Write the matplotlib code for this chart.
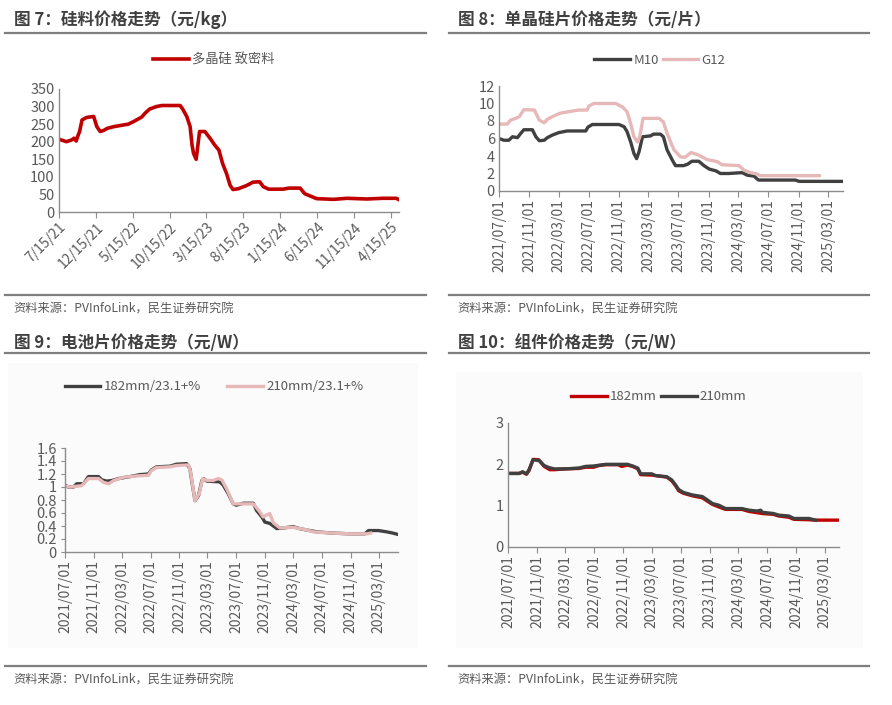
import pandas as pd
import matplotlib
matplotlib.use("Agg")
import matplotlib.pyplot as plt
from matplotlib.lines import Line2D
from matplotlib.patches import Rectangle

plt.rcParams['font.family'] = ['Noto Sans CJK SC', 'DejaVu Sans']

# ---- 图7 硅料 ----
poly_dates = ["2021-07-15", "2021-08-02", "2021-08-15", "2021-09-05", "2021-09-15", "2021-09-24",
              "2021-09-30", "2021-10-08", "2021-10-18", "2021-11-06", "2021-12-05", "2021-12-18",
              "2022-01-01", "2022-01-15", "2022-01-30", "2022-02-27", "2022-03-24", "2022-04-27",
              "2022-05-18", "2022-06-21", "2022-07-05", "2022-07-24", "2022-08-21", "2022-09-12",
              "2022-11-27", "2022-12-09", "2022-12-24", "2023-01-07", "2023-01-15", "2023-01-21",
              "2023-02-01", "2023-02-15", "2023-03-09", "2023-03-30", "2023-04-18", "2023-05-06",
              "2023-05-21", "2023-06-06", "2023-06-21", "2023-07-03", "2023-07-24", "2023-08-27",
              "2023-09-24", "2023-10-21", "2023-11-05", "2023-11-27", "2024-01-27", "2024-02-18",
              "2024-04-05", "2024-04-24", "2024-05-15", "2024-06-12", "2024-08-21", "2024-10-15",
              "2025-01-06", "2025-03-12", "2025-05-07", "2025-05-18"]
poly_vals = [207, 203, 200, 205, 210, 202, 215, 229, 262, 269, 272, 243,
             229, 232, 238, 243, 246, 250, 257, 270, 281, 293, 300, 303,
             303, 291, 272, 243, 191, 167, 150, 229, 229, 210, 191, 176,
             138, 110, 76, 64, 66, 75, 85, 86, 72, 65, 65, 68,
             68, 52, 46, 38, 36, 39, 37, 39, 39, 35]
poly_ticks = ["2021-07-15", "2021-12-15", "2022-05-15", "2022-10-15", "2023-03-15",
              "2023-08-15", "2024-01-15", "2024-06-15", "2024-11-15", "2025-04-15"]
poly_ticklabels = ["7/15/21", "12/15/21", "5/15/22", "10/15/22", "3/15/23",
                   "8/15/23", "1/15/24", "6/15/24", "11/15/24", "4/15/25"]

# ---- 图8 单晶硅片 ----
m10_dates = ["2021-07-01", "2021-07-21", "2021-08-10", "2021-08-25", "2021-09-14", "2021-09-28",
             "2021-10-10", "2021-11-14", "2021-11-28", "2021-12-12", "2022-01-01", "2022-01-14",
             "2022-02-04", "2022-03-01", "2022-04-04", "2022-06-19", "2022-06-28", "2022-07-16",
             "2022-11-01", "2022-11-22", "2022-12-04", "2022-12-19", "2023-01-01", "2023-01-12",
             "2023-01-22", "2023-02-05", "2023-03-10", "2023-03-22", "2023-04-19", "2023-05-01",
             "2023-05-16", "2023-06-07", "2023-06-19", "2023-07-22", "2023-08-07", "2023-08-25",
             "2023-09-22", "2023-10-13", "2023-11-04", "2023-12-01", "2023-12-19", "2024-01-22",
             "2024-03-16", "2024-04-07", "2024-05-04", "2024-05-22", "2024-10-19", "2024-11-04",
             "2025-05-01"]
m10_vals = [6.0, 5.8, 5.8, 6.2, 6.1, 6.6, 7.0, 7.0, 6.2, 5.75, 5.8, 6.1,
            6.4, 6.67, 6.86, 6.86, 7.3, 7.6, 7.6, 7.35, 6.8, 5.6, 4.3, 3.7,
            4.5, 6.2, 6.3, 6.5, 6.5, 6.2, 4.7, 3.5, 2.9, 2.9, 3.05, 3.4,
            3.4, 2.9, 2.5, 2.3, 2.0, 2.0, 2.1, 1.8, 1.7, 1.25, 1.25, 1.1, 1.1]
g12_dates = ["2021-07-01", "2021-08-04", "2021-08-17", "2021-09-07", "2021-09-22", "2021-10-10",
             "2021-11-22", "2021-12-12", "2022-01-01", "2022-01-14", "2022-02-11", "2022-03-08",
             "2022-04-11", "2022-05-22", "2022-06-25", "2022-07-01", "2022-07-22", "2022-10-19",
             "2022-11-16", "2022-12-04", "2022-12-19", "2023-01-01", "2023-01-16", "2023-01-25",
             "2023-02-07", "2023-04-13", "2023-05-01", "2023-05-16", "2023-06-13", "2023-07-10",
             "2023-07-28", "2023-08-22", "2023-09-22", "2023-10-25", "2023-12-07", "2023-12-25",
             "2024-03-04", "2024-03-23", "2024-04-19", "2024-05-16", "2024-05-29", "2025-01-25"]
g12_vals = [7.65, 7.65, 8.1, 8.3, 8.5, 9.3, 9.25, 8.1, 7.8, 8.2, 8.6, 8.9,
            9.07, 9.25, 9.25, 9.7, 10.0, 10.0, 9.6, 9.07, 7.7, 6.2, 5.6, 6.2,
            8.3, 8.3, 7.9, 6.6, 4.7, 3.9, 3.85, 4.4, 4.1, 3.6, 3.35, 3.0,
            2.9, 2.4, 2.1, 1.95, 1.75, 1.75]

# ---- 图9 电池片 ----
c182_dates = ["2021-07-01", "2021-07-15", "2021-08-06", "2021-08-20", "2021-09-18", "2021-10-09",
              "2021-11-21", "2021-12-05", "2021-12-26", "2022-01-17", "2022-02-15", "2022-04-04",
              "2022-05-16", "2022-06-22", "2022-07-04", "2022-07-26", "2022-09-22", "2022-10-19",
              "2022-12-02", "2022-12-16", "2022-12-28", "2023-01-07", "2023-01-22", "2023-02-05",
              "2023-02-12", "2023-02-26", "2023-04-22", "2023-05-07", "2023-05-28", "2023-06-19",
              "2023-07-02", "2023-08-01", "2023-09-13", "2023-09-26", "2023-10-19", "2023-11-01",
              "2023-11-22", "2023-12-22", "2024-01-19", "2024-03-01", "2024-03-28", "2024-05-10",
              "2024-06-10", "2024-08-19", "2024-10-28", "2025-01-01", "2025-01-16", "2025-02-28",
              "2025-04-04", "2025-05-01", "2025-05-22"]
c182_vals = [1.03, 1.0, 1.0, 1.05, 1.05, 1.16, 1.16, 1.11, 1.09, 1.10, 1.13, 1.16,
             1.19, 1.2, 1.26, 1.31, 1.32, 1.35, 1.36, 1.28, 1.0, 0.79, 0.87, 1.10,
             1.13, 1.09, 1.08, 1.03, 0.90, 0.74, 0.72, 0.75, 0.75, 0.64, 0.54, 0.46,
             0.44, 0.36, 0.37, 0.39, 0.36, 0.33, 0.31, 0.29, 0.28, 0.28, 0.33, 0.33,
             0.31, 0.29, 0.27]
c210_dates = ["2021-07-01", "2021-07-22", "2021-09-10", "2021-09-18", "2021-10-09", "2021-11-21",
              "2021-12-13", "2022-01-04", "2022-01-25", "2022-03-07", "2022-05-01", "2022-06-22",
              "2022-07-04", "2022-07-26", "2022-09-22", "2022-10-19", "2022-12-10", "2022-12-19",
              "2023-01-01", "2023-01-07", "2023-01-25", "2023-02-08", "2023-02-26", "2023-03-25",
              "2023-04-16", "2023-05-01", "2023-05-22", "2023-06-19", "2023-09-13", "2023-10-10",
              "2023-10-25", "2023-11-08", "2023-11-22", "2023-12-07", "2024-01-04", "2024-03-01",
              "2024-04-28", "2024-05-25", "2024-08-19", "2024-10-28", "2025-01-10", "2025-01-25"]
c210_vals = [1.02, 1.0, 1.02, 1.05, 1.13, 1.13, 1.07, 1.05, 1.10, 1.15, 1.17, 1.18,
             1.25, 1.30, 1.31, 1.33, 1.34, 1.23, 0.92, 0.79, 0.90, 1.13, 1.10, 1.10,
             1.13, 1.11, 0.97, 0.74, 0.74, 0.62, 0.54, 0.57, 0.59, 0.45, 0.37, 0.38,
             0.34, 0.31, 0.29, 0.28, 0.28, 0.29]

# ---- 图10 组件 ----
m182_dates = ["2021-07-01", "2021-08-17", "2021-09-01", "2021-09-17", "2021-09-28", "2021-10-15",
              "2021-11-08", "2021-12-01", "2021-12-25", "2022-01-13", "2022-03-01", "2022-04-27",
              "2022-05-25", "2022-06-28", "2022-07-20", "2022-08-19", "2022-10-10", "2022-10-25",
              "2022-11-19", "2022-12-10", "2023-01-01", "2023-01-13", "2023-03-01", "2023-05-04",
              "2023-05-25", "2023-06-10", "2023-06-23", "2023-07-13", "2023-08-19", "2023-10-01",
              "2023-10-22", "2023-11-13", "2023-12-10", "2024-01-07", "2024-03-16", "2024-04-16",
              "2024-06-10", "2024-07-28", "2024-08-19", "2024-10-01", "2024-10-22", "2024-12-25",
              "2025-01-15", "2025-05-01"]
m182_vals = [1.78, 1.78, 1.81, 1.76, 1.85, 2.12, 2.11, 1.95, 1.87, 1.87, 1.89, 1.90,
             1.93, 1.93, 1.97, 1.99, 1.99, 1.95, 1.98, 1.95, 1.89, 1.75, 1.74, 1.69,
             1.60, 1.48, 1.36, 1.30, 1.24, 1.19, 1.11, 1.03, 0.97, 0.91, 0.91, 0.86,
             0.81, 0.79, 0.75, 0.72, 0.67, 0.66, 0.65, 0.65]
m210_dates = ["2021-07-01", "2021-08-17", "2021-09-01", "2021-09-17", "2021-09-28", "2021-10-15",
              "2021-11-10", "2021-12-01", "2021-12-22", "2022-01-13", "2022-03-01", "2022-04-27",
              "2022-05-25", "2022-06-28", "2022-08-19", "2022-11-19", "2022-12-10", "2023-01-01",
              "2023-01-13", "2023-03-01", "2023-03-16", "2023-05-04", "2023-05-25", "2023-06-10",
              "2023-06-23", "2023-07-13", "2023-08-19", "2023-10-01", "2023-10-22", "2023-11-13",
              "2023-12-10", "2024-01-07", "2024-03-16", "2024-04-16", "2024-05-19", "2024-06-04",
              "2024-06-10", "2024-07-28", "2024-08-19", "2024-10-01", "2024-10-22", "2024-12-25",
              "2025-01-22"]
m210_vals = [1.78, 1.78, 1.82, 1.77, 1.87, 2.11, 2.09, 1.97, 1.92, 1.89, 1.89, 1.91,
             1.95, 1.96, 2.0, 2.0, 1.96, 1.91, 1.77, 1.77, 1.73, 1.70, 1.62, 1.50,
             1.39, 1.32, 1.26, 1.22, 1.14, 1.05, 1.01, 0.93, 0.93, 0.89, 0.87, 0.89,
             0.84, 0.81, 0.77, 0.75, 0.69, 0.69, 0.65]

ymd_ticks = pd.date_range("2021-07-01", "2025-03-01", freq="4MS")
ymd_ticklabels = [d.strftime("%Y/%m/%d") for d in ymd_ticks]

RED = "#C00000"
DARK = "#404040"
PINK = "#E6B9B8"
TXT = "#595959"
W, H = 892, 705


def fx(px):
    return px / W


def fy(py):
    return 1 - py / H


fig = plt.figure(figsize=(8.92, 7.05), dpi=100)

# faint chart-area backgrounds of the lower two panels
for bx0, bx1, btop in ((8, 418, 363), (456, 863, 372)):
    fig.add_artist(Rectangle((fx(bx0), fy(648)), fx(bx1 - bx0), (648 - btop) / H,
                             fc="#fbfbfb", ec="none", transform=fig.transFigure, zorder=0))


def frame(x0, x1, ytop, ybot, title, tx, ty, sy):
    fig.text(fx(tx), fy(ty), title, fontsize=12, fontweight="bold", color="#404040", va="center")
    for yy in (ytop, ybot):
        fig.add_artist(Line2D([fx(x0), fx(x1)], [fy(yy), fy(yy)], color="#7f7f7f", lw=1.6,
                              transform=fig.transFigure))
    fig.text(fx(tx - 1), fy(sy), "资料来源：PVInfoLink，民生证券研究院", fontsize=8.8,
             color=TXT, va="center")


def style(ax, ytick_len=0):
    ax.patch.set_alpha(0)
    for s in ("top", "right"):
        ax.spines[s].set_visible(False)
    for s in ("left", "bottom"):
        ax.spines[s].set_color("#8c8c8c")
        ax.spines[s].set_linewidth(1.0)
    ax.tick_params(axis="x", length=4, color="#8c8c8c", labelsize=10, labelcolor=TXT, pad=2)
    ax.tick_params(axis="y", length=ytick_len, color="#8c8c8c", labelsize=10.5, labelcolor=TXT, pad=3)


def legend(ax, cx, cy, spacing):
    ax.legend(loc="center", bbox_to_anchor=(fx(cx), fy(cy)), bbox_transform=fig.transFigure,
              ncol=2, frameon=False, fontsize=9.5, handlelength=2.7, handletextpad=0.25,
              columnspacing=spacing, labelcolor=TXT)


# frames
frame(5, 426, 33, 295, "图 7：硅料价格走势（元/kg）", 14, 20, 309)
frame(449, 869, 33, 295, "图 8：单晶硅片价格走势（元/片）", 458, 20, 309)
frame(5, 426, 353, 666, "图 9：电池片价格走势（元/W）", 14, 343, 680)
frame(449, 869, 353, 666, "图 10：组件价格走势（元/W）", 458, 343, 680)

# 图7
ax1 = fig.add_axes([fx(59), fy(212), fx(399 - 59), (212 - 89) / H])
ax1.plot(pd.to_datetime(poly_dates), poly_vals, color=RED, lw=2.6, label="多晶硅 致密料")
ax1.set_xlim(pd.Timestamp("2021-07-15"), pd.Timestamp("2025-05-18"))
ax1.set_ylim(0, 350)
ax1.set_yticks(range(0, 351, 50))
ax1.set_xticks(pd.to_datetime(poly_ticks))
ax1.set_xticklabels(poly_ticklabels, rotation=45, ha="right", rotation_mode="anchor")
style(ax1)
legend(ax1, 214, 60, 1.0)

# 图8
ax2 = fig.add_axes([fx(499), fy(191), fx(843 - 499), (191 - 86) / H])
ax2.plot(pd.to_datetime(m10_dates), m10_vals, color=DARK, lw=2.4, label="M10")
ax2.plot(pd.to_datetime(g12_dates), g12_vals, color=PINK, lw=2.4, label="G12")
ax2.set_xlim(pd.Timestamp("2021-07-01"), pd.Timestamp("2025-05-01"))
ax2.set_ylim(0, 12)
ax2.set_yticks(range(0, 13, 2))
ax2.set_xticks(ymd_ticks)
ax2.set_xticklabels(ymd_ticklabels, rotation=90)
style(ax2)
legend(ax2, 660, 60, 0.3)

# 图9
ax3 = fig.add_axes([fx(65), fy(552), fx(398 - 65), (552 - 448) / H])
ax3.plot(pd.to_datetime(c182_dates), c182_vals, color=DARK, lw=2.4, label="182mm/23.1+%")
ax3.plot(pd.to_datetime(c210_dates), c210_vals, color=PINK, lw=2.4, label="210mm/23.1+%")
ax3.set_xlim(pd.Timestamp("2021-07-01"), pd.Timestamp("2025-05-22"))
ax3.set_ylim(0, 1.6)
ax3.set_yticks([0, 0.2, 0.4, 0.6, 0.8, 1, 1.2, 1.4, 1.6])
ax3.set_yticklabels(["0", "0.2", "0.4", "0.6", "0.8", "1", "1.2", "1.4", "1.6"])
ax3.set_xticks(ymd_ticks)
ax3.set_xticklabels(ymd_ticklabels, rotation=90)
style(ax3, ytick_len=3)
legend(ax3, 214, 387, 2.0)

# 图10
ax4 = fig.add_axes([fx(508), fy(547), fx(839 - 508), (547 - 423) / H])
ax4.plot(pd.to_datetime(m182_dates), m182_vals, color=RED, lw=2.4, label="182mm")
ax4.plot(pd.to_datetime(m210_dates), m210_vals, color=DARK, lw=2.4, label="210mm")
ax4.set_xlim(pd.Timestamp("2021-07-01"), pd.Timestamp("2025-05-01"))
ax4.set_ylim(0, 3)
ax4.set_yticks([0, 1, 2, 3])
ax4.set_xticks(ymd_ticks)
ax4.set_xticklabels(ymd_ticklabels, rotation=90)
style(ax4)
legend(ax4, 659, 397, 0.3)

fig.savefig("out.png", dpi=100)
